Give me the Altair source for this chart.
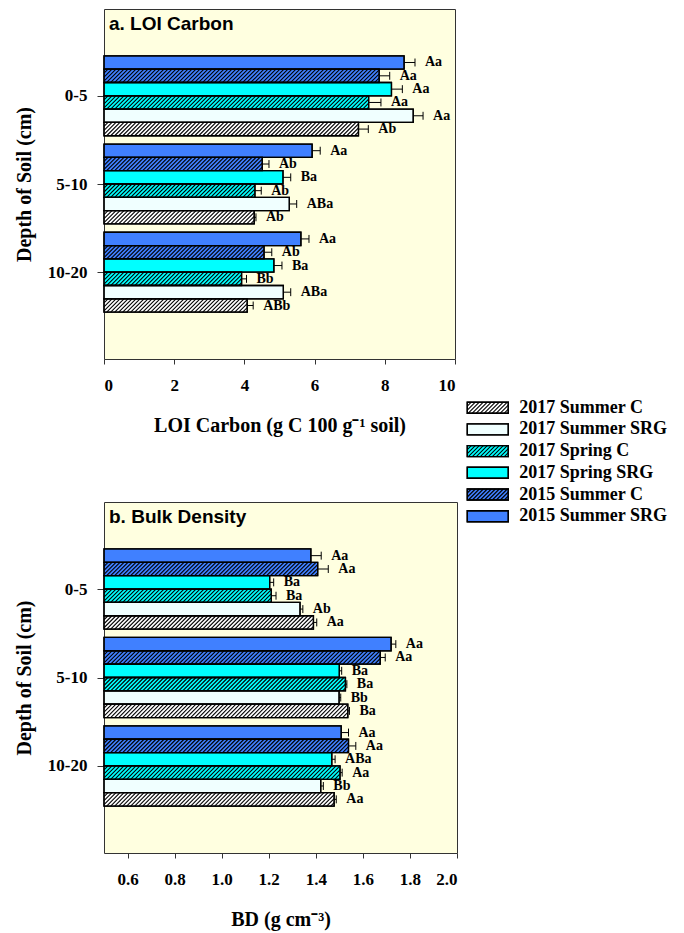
import json
import altair as alt
import pandas as pd

# ---------------- data ----------------
depths = ["0-5", "5-10", "10-20"]
# series in the order they are stacked inside each depth group (top to bottom)
series = ["2015 Summer SRG", "2015 Summer C", "2017 Spring SRG",
          "2017 Spring C", "2017 Summer SRG", "2017 Summer C"]
legend_order = ["2017 Summer C", "2017 Summer SRG", "2017 Spring C",
                "2017 Spring SRG", "2015 Summer C", "2015 Summer SRG"]
hatched = ["2015 Summer C", "2017 Spring C", "2017 Summer C"]
fills = {"2015 Summer SRG": "#4080FF", "2015 Summer C": "#4080FF",
         "2017 Spring SRG": "#00FFFF", "2017 Spring C": "#00FFFF",
         "2017 Summer SRG": "#F0FFFF", "2017 Summer C": "#FFFFFF"}

# LOI carbon (g C 100 g-1 soil), per series: values for 0-5, 5-10, 10-20
loi_mean = {"2015 Summer SRG": [8.55, 5.93, 5.61],
            "2015 Summer C":   [7.84, 4.51, 4.56],
            "2017 Spring SRG": [8.19, 5.10, 4.84],
            "2017 Spring C":   [7.54, 4.30, 3.92],
            "2017 Summer SRG": [8.81, 5.28, 5.11],
            "2017 Summer C":   [7.25, 4.28, 4.08]}
loi_err = {"2015 Summer SRG": [0.31, 0.23, 0.23],
           "2015 Summer C":   [0.30, 0.19, 0.22],
           "2017 Spring SRG": [0.31, 0.22, 0.23],
           "2017 Spring C":   [0.35, 0.18, 0.14],
           "2017 Summer SRG": [0.28, 0.21, 0.21],
           "2017 Summer C":   [0.28, 0.05, 0.17]}
loi_lab = {"2015 Summer SRG": ["Aa", "Aa", "Aa"],
           "2015 Summer C":   ["Aa", "Ab", "Ab"],
           "2017 Spring SRG": ["Aa", "Ba", "Ba"],
           "2017 Spring C":   ["Aa", "Ab", "Bb"],
           "2017 Summer SRG": ["Aa", "ABa", "ABa"],
           "2017 Summer C":   ["Ab", "Ab", "ABb"]}

# Bulk density (g cm-3)
bd_mean = {"2015 Summer SRG": [1.379, 1.720, 1.508],
           "2015 Summer C":   [1.408, 1.674, 1.539],
           "2017 Spring SRG": [1.204, 1.500, 1.468],
           "2017 Spring C":   [1.211, 1.526, 1.503],
           "2017 Summer SRG": [1.333, 1.499, 1.421],
           "2017 Summer C":   [1.390, 1.536, 1.478]}
bd_err = {"2015 Summer SRG": [0.044, 0.020, 0.031],
          "2015 Summer C":   [0.045, 0.021, 0.031],
          "2017 Spring SRG": [0.017, 0.010, 0.014],
          "2017 Spring C":   [0.020, 0.006, 0.009],
          "2017 Summer SRG": [0.012, 0.007, 0.011],
          "2017 Summer C":   [0.014, 0.007, 0.009]}
bd_lab = {"2015 Summer SRG": ["Aa", "Aa", "Aa"],
          "2015 Summer C":   ["Aa", "Aa", "Aa"],
          "2017 Spring SRG": ["Ba", "Ba", "ABa"],
          "2017 Spring C":   ["Ba", "Ba", "Aa"],
          "2017 Summer SRG": ["Ab", "Bb", "Bb"],
          "2017 Summer C":   ["Aa", "Ba", "Aa"]}

loi_ticks = [0, 2, 4, 6, 8, 10]
bd_ticks = [0.6, 0.8, 1.0, 1.2, 1.4, 1.6, 1.8, 2.0]

# ---------------- layout / style constants ----------------
SERIF = "Liberation Serif"
SANS = "Liberation Sans"
BAR_H = 0.151            # bar thickness in y units (1 unit = group step)
HALF = 3 * BAR_H
YDOM = [-0.984, 2.984]
CAP = 0.045
HATCH_PX = 4.0
TOP_W, TOP_H = 351, 350
BOT_W, BOT_H = 353, 351
# legend placement, in pixels relative to the top panel's plot area
LEG_X, LEG_W, LEG_SYM_H = 363.3, 41.0, 11.0
LEG_Y0, LEG_ROW = 398.7, 21.7


def make_df(mean, err, lab):
    rows = []
    for j, s in enumerate(series):
        for g, d in enumerate(depths):
            rows.append({"depth": d, "g": g, "series": s, "j": j,
                         "value": mean[s][g], "err": err[s][g],
                         "label": lab[s][g], "hatch": s in hatched})
    return pd.DataFrame(rows)


color_scale = alt.Scale(domain=legend_order, range=[fills[s] for s in legend_order])


def panel_layers(df, xmin, xmax, ticks, fmt, xtitle, width, height):
    px_x = width / (xmax - xmin)
    px_y = height / (YDOM[1] - YDOM[0])
    run = BAR_H * px_y / px_x
    step = HATCH_PX / px_x

    xs = alt.Scale(domain=[xmin, xmax], nice=False, zero=False)
    ys = alt.Scale(domain=YDOM, reverse=True, nice=False, zero=False)
    xaxis = alt.Axis(values=ticks, format=fmt, title=xtitle, tickSize=5,
                     labelPadding=13, titlePadding=22)
    yaxis = alt.Axis(values=[0, 1, 2], labelExpr=f"{json.dumps(depths)}[datum.value]",
                     title="Depth of Soil (cm)", tickSize=7, labelPadding=10,
                     titlePadding=13)

    def X(f):
        return alt.X(f, type="quantitative", scale=xs, axis=xaxis)

    def Y(f):
        return alt.Y(f, type="quantitative", scale=ys, axis=yaxis)

    base = alt.Chart(df).transform_calculate(
        ytop=f"datum.g - {HALF} + datum.j * {BAR_H}",
        ybot=f"datum.ytop + {BAR_H}",
        yc=f"datum.ytop + {BAR_H / 2}",
        xend="datum.value + datum.err",
        cap1=f"datum.yc - {CAP}",
        cap2=f"datum.yc + {CAP}",
        x0=f"{xmin}",
    )

    bars = base.mark_rect(stroke="black", strokeWidth=1.3).encode(
        x=X("value"), x2="x0:Q", y=Y("ytop"), y2="ybot:Q",
        color=alt.Color("series:N", scale=color_scale, legend=None),
    )

    hatch = base.transform_filter("datum.hatch").transform_calculate(
        seq=f"sequence({xmin - run}, datum.value, {step})"
    ).transform_flatten(["seq"]).transform_calculate(
        hx1=f"max(datum.seq, {xmin})",
        hx2=f"min(datum.seq + {run}, datum.value)",
        hy1=f"datum.ybot - (datum.hx1 - datum.seq) / {run} * {BAR_H}",
        hy2=f"datum.ybot - (datum.hx2 - datum.seq) / {run} * {BAR_H}",
    ).transform_filter("datum.hx2 > datum.hx1").mark_rule(
        color="black", strokeWidth=1.1
    ).encode(x=X("hx1"), x2="hx2:Q", y=Y("hy1"), y2="hy2:Q")

    outline = base.mark_rect(fillOpacity=0, stroke="black", strokeWidth=1.3).encode(
        x=X("value"), x2="x0:Q", y=Y("ytop"), y2="ybot:Q")

    ebar = base.mark_rule(color="black", strokeWidth=1).encode(
        x=X("value"), x2="xend:Q", y=Y("yc"))
    ecap = base.mark_rule(color="black", strokeWidth=1).encode(
        x=X("xend"), y=Y("cap1"), y2="cap2:Q")

    labels = base.mark_text(align="left", baseline="middle", dx=10, font=SERIF,
                            fontSize=14, fontWeight="bold", color="black").encode(
        x=X("xend"), y=Y("yc"), text="label:N")

    return alt.layer(bars, hatch, outline, ebar, ecap, labels)


def legend_layers(width, height):
    """Legend drawn with marks; its own scales run in pixels of the top plot area."""
    leg_df = pd.DataFrame({"series": legend_order,
                           "i": list(range(len(legend_order))),
                           "hatch": [s in hatched for s in legend_order]})
    lx = alt.Scale(domain=[0, width], nice=False, zero=False)
    ly = alt.Scale(domain=[0, height], reverse=True, nice=False, zero=False)

    def X(f):
        return alt.X(f, type="quantitative", scale=lx, axis=None)

    def Y(f):
        return alt.Y(f, type="quantitative", scale=ly, axis=None)

    lb = alt.Chart(leg_df).transform_calculate(
        yc=f"{LEG_Y0} + datum.i * {LEG_ROW}",
        ytop=f"datum.yc - {LEG_SYM_H / 2}",
        ybot=f"datum.yc + {LEG_SYM_H / 2}",
        xa=f"{LEG_X}",
        xb=f"{LEG_X + LEG_W}",
    )
    sym = lb.mark_rect(stroke="black", strokeWidth=1.4).encode(
        x=X("xa"), x2="xb:Q", y=Y("ytop"), y2="ybot:Q",
        color=alt.Color("series:N", scale=color_scale, legend=None))
    hatch = lb.transform_filter("datum.hatch").transform_calculate(
        seq=f"sequence({LEG_X - LEG_SYM_H}, {LEG_X + LEG_W}, {HATCH_PX})"
    ).transform_flatten(["seq"]).transform_calculate(
        hx1=f"max(datum.seq, {LEG_X})",
        hx2=f"min(datum.seq + {LEG_SYM_H}, {LEG_X + LEG_W})",
        hy1="datum.ybot - (datum.hx1 - datum.seq)",
        hy2="datum.ybot - (datum.hx2 - datum.seq)",
    ).transform_filter("datum.hx2 > datum.hx1").mark_rule(
        color="black", strokeWidth=1.1
    ).encode(x=X("hx1"), x2="hx2:Q", y=Y("hy1"), y2="hy2:Q")
    sym_outline = lb.mark_rect(fillOpacity=0, stroke="black", strokeWidth=1.4).encode(
        x=X("xa"), x2="xb:Q", y=Y("ytop"), y2="ybot:Q")
    txt = lb.mark_text(align="left", baseline="middle", dx=11, font=SERIF,
                       fontSize=18, fontWeight="bold", color="black").encode(
        x=X("xb"), y=Y("yc"), text="series:N")
    return alt.layer(sym, hatch, sym_outline, txt)


def titled(chart, ptitle, width, height):
    return chart.properties(
        width=width, height=height,
        title=alt.TitleParams(ptitle, anchor="start", frame="group", offset=-25,
                              dx=5, font=SANS, fontSize=19, fontWeight="bold",
                              color="black"),
    )


top_inner = panel_layers(make_df(loi_mean, loi_err, loi_lab), 0, 10, loi_ticks, "d",
                         "LOI Carbon (g C 100 g\u207b\u00b9 soil)", TOP_W, TOP_H)
top = titled(alt.layer(top_inner, legend_layers(TOP_W, TOP_H)).resolve_scale(
    x="independent", y="independent"), "a. LOI Carbon", TOP_W, TOP_H)

bottom = titled(panel_layers(make_df(bd_mean, bd_err, bd_lab), 0.5, 2.0, bd_ticks, ".1f",
                             "BD (g cm\u207b\u00b3)", BOT_W, BOT_H),
                "b. Bulk Density", BOT_W, BOT_H)

chart = alt.vconcat(top, bottom, spacing=143, bounds="flush").properties(
    padding={"left": 5, "top": 0, "right": 5, "bottom": 2}
).configure_view(
    fill="#FFFFE0", stroke="#333333", strokeWidth=1
).configure_axis(
    grid=False, domain=False, tickColor="#333333", tickWidth=1,
    labelFont=SERIF, labelFontSize=17, labelFontWeight="bold", labelColor="black",
    titleFont=SERIF, titleFontSize=20, titleFontWeight="bold", titleColor="black",
)

chart.save("out.html", embed_options={"renderer": "svg", "actions": False})
